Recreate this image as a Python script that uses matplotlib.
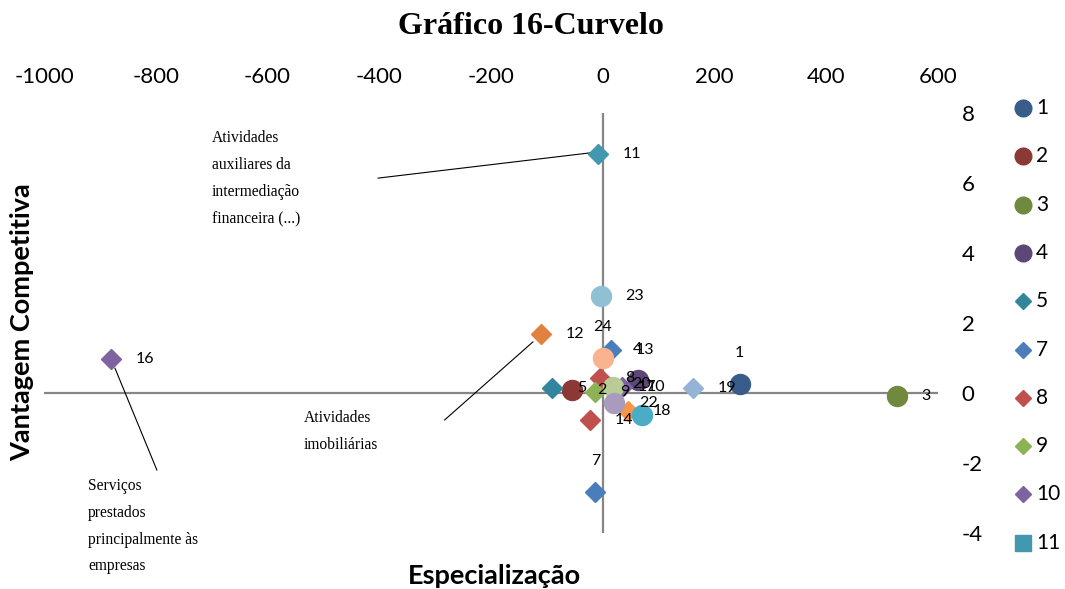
import matplotlib
matplotlib.use("Agg")
import matplotlib.pyplot as plt
from matplotlib.lines import Line2D

# ---- data ----
series = ['1', '2', '3', '4', '5', '7', '8', '9', '10', '11', '12', '13', '14',
          '16', '17', '18', '19', '20', '22', '23', '24']
especializacao = [245, -55, 526, 63, -91, -13, -5, -14, 34, -9, -111, 14, -23,
                  -880, 18, 45, 161, 70, 21, -4, 0]
vantagem = [0.26, 0.09, -0.09, 0.37, 0.14, -2.83, 0.43, 0.03, 0.17, 6.83, 1.69, 1.23, -0.77,
            0.97, 0.17, -0.51, 0.14, -0.63, -0.29, 2.77, 1.00]
markers = ['o', 'o', 'o', 'o', 'D', 'D', 'D', 'D', 'D', 'D', 'D', 'D', 'D',
           'D', 'o', 'D', 'D', 'o', 'o', 'o', 'o']
colors = ['#385D8A', '#8C3836', '#71893F', '#5C4776', '#31859C', '#4A7EBB', '#C0504D',
          '#8DB255', '#7F63A1', '#4198AF', '#E0823D', '#4A7EBB', '#C0504D',
          '#7F63A1', '#BACB97', '#F79646', '#95B3D7', '#4BACC6', '#A99BBD', '#8FC0D4', '#F9B38F']
label_pos = ['above', 'right', 'right', 'above', 'right', 'above', 'right', 'right', 'right',
             'right', 'right', 'right', 'right', 'right', 'right', 'right', 'right', 'above',
             'right', 'right', 'above']
legend_series = ['1', '2', '3', '4', '5', '7', '8', '9', '10', '11']
legend_markers = ['o', 'o', 'o', 'o', 'D', 'D', 'D', 'D', 'D', 's']

x_ticks = [-1000, -800, -600, -400, -200, 0, 200, 400, 600]
y_ticks = [-4, -2, 0, 2, 4, 6, 8]

annotations = [
    ("Atividades\nauxiliares da\nintermediação\nfinanceira (...)", (-700, 7.5), (-402, 6.14), (-23, 6.86)),
    ("Atividades\nimobiliárias", (-535, -0.5), (-283, -0.77), (-125, 1.46)),
    ("Serviços\nprestados\nprincipalmente às\nempresas", (-921, -2.43), (-798, -2.2), (-873, 0.71)),
]

W, H = 1065, 589
fig = plt.figure(figsize=(W / 100, H / 100), dpi=100)
ax = fig.add_axes([44 / W, 1 - 533 / H, (938 - 44) / W, (533 - 113) / H])
ax.set_xlim(-1000, 600)
ax.set_ylim(-4, 8)
for s in ax.spines.values():
    s.set_visible(False)
ax.axhline(0, color='#868686', lw=1.6, zorder=1)
ax.axvline(0, color='#868686', lw=1.6, zorder=1)

ax.xaxis.set_ticks_position('top')
ax.yaxis.set_ticks_position('right')
ax.set_xticks(x_ticks)
ax.set_yticks(y_ticks)
ax.set_xticklabels([str(v) for v in x_ticks], family='Lato')
ax.set_yticklabels([str(v) for v in y_ticks], family='Lato')
ax.tick_params(axis='x', length=0, pad=19, labelsize=16)
ax.tick_params(axis='y', length=0, pad=17, labelsize=16)

for i, name in enumerate(series):
    m = markers[i]
    ms = 14.4 if m == 'o' else 10.2
    ax.plot([especializacao[i]], [vantagem[i]], linestyle='none', marker=m, ms=ms,
            color=colors[i], mec=colors[i], zorder=3 + i * 0.01, clip_on=False)
    if label_pos[i] == 'right':
        ax.annotate(name, (especializacao[i], vantagem[i]), xytext=(25, 0),
                    textcoords='offset pixels', ha='left', va='center',
                    fontsize=11.5, family='Lato', zorder=10)
    else:
        ax.annotate(name, (especializacao[i], vantagem[i]), xytext=(0, 31),
                    textcoords='offset pixels', ha='center', va='center',
                    fontsize=11.5, family='Lato', zorder=10)

for text, tpos, p0, p1 in annotations:
    ax.text(tpos[0], tpos[1], text, ha='left', va='top', fontsize=11.2,
            family='Liberation Serif', linespacing=1.9)
    ax.plot([p0[0], p1[0]], [p0[1], p1[1]], color='black', lw=0.8, zorder=2)

# legend (manual, right side)
leg_y0 = 108
leg_dy = 48.3
for k, name in enumerate(legend_series):
    yy = 1 - (leg_y0 + k * leg_dy) / H
    idx = series.index(name)
    m = legend_markers[k]
    ms = 12 if m == 'o' else (8.6 if m == 'D' else 11)
    fig.add_artist(Line2D([1023 / W], [yy], marker=m, ms=ms, color=colors[idx],
                          mec=colors[idx], linestyle='none', transform=fig.transFigure))
    fig.text(1036 / W, yy, name, ha='left', va='center', fontsize=15, family='Lato')

fig.text(531 / W, 1 - 27 / H, 'Gráfico 16-Curvelo', ha='center', va='center',
         fontsize=23, fontweight='bold', family='Liberation Serif')
fig.text(494 / W, 1 - 576 / H, 'Especialização', ha='center', va='center',
         fontsize=19.5, fontweight='bold', family='Lato')
fig.text(22 / W, 1 - 322 / H, 'Vantagem Competitiva', ha='center', va='center',
         rotation=90, fontsize=19.5, fontweight='bold', family='Lato')

fig.savefig('out.png', dpi=100)
